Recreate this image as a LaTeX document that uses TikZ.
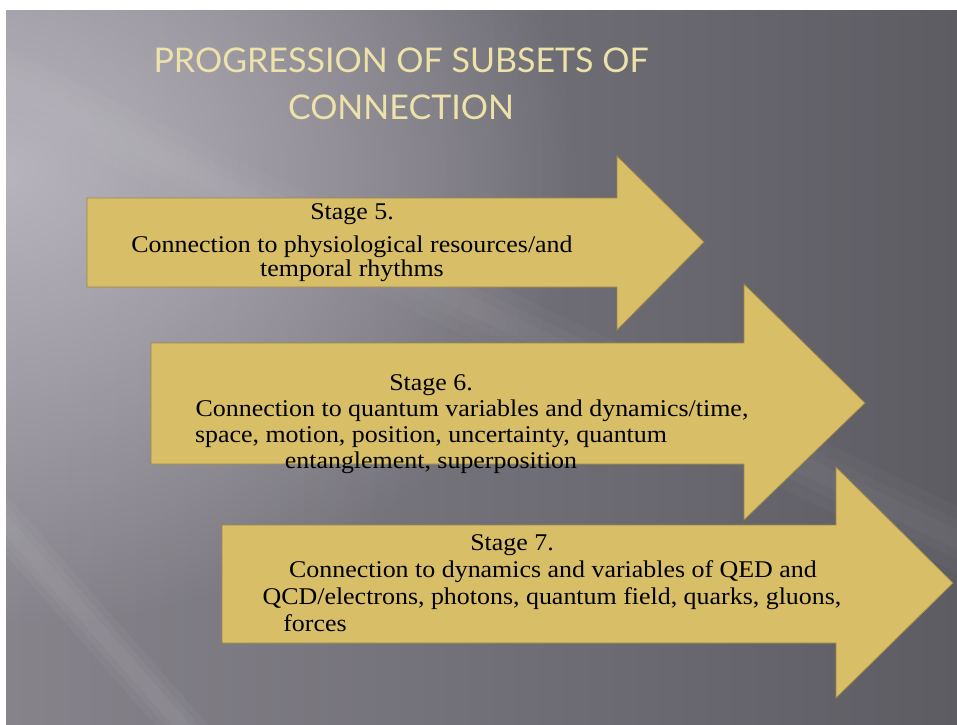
\documentclass[tikz,border=0pt]{standalone}
\usepackage{fontspec}
\setmainfont{Liberation Serif}[FakeStretch=1.08]
\newfontfamily\titlefont{Lato}
\usetikzlibrary{fadings}

\definecolor{slidelight}{RGB}{184,180,189}
\definecolor{slideleft}{RGB}{134,131,139}
\definecolor{slidedark}{RGB}{93,92,99}
\definecolor{arrowfill}{RGB}{215,190,103}
\definecolor{arrowline}{RGB}{158,136,72}
\definecolor{titlegold}{RGB}{236,226,170}

\tikzfading[name=glowfade, inner color=transparent!0, outer color=transparent!100]

\tikzset{
  stagearrow/.style={fill=arrowfill, draw=arrowline, line width=0.8pt, line join=miter},
  stagetext/.style={inner sep=0pt, align=center, text=black, font=\fontsize{24}{26}\selectfont},
  titletext/.style={inner sep=0pt, align=center, font=\titlefont\fontsize{34}{47}\selectfont}
}

\begin{document}
\begin{tikzpicture}[x=1pt, y=-1pt]
    % Slide background
    \useasboundingbox (0,0) rectangle (957,724);
    \fill[white] (0,0) rectangle (957,724);
    \begin{scope}
        \clip (6,10) rectangle (957,724);
        \shade[left color=slideleft, right color=slidedark] (6,10) rectangle (957,724);
        \fill[slidelight, path fading=glowfade] (0,170) ellipse (580 and 460);
        % light streaks
        \foreach \w in {40, 26, 14}
            \draw[white, opacity=0.035, line width=\w pt] (-60,450) -- (230,780);
        \foreach \w in {60, 36, 18}
            \draw[white, opacity=0.025, line width=\w pt] (-40,60) -- (1000,560);
    \end{scope}

    % Title
    \node[titletext, text=titlegold] (title) at (401,84) {PROGRESSION OF SUBSETS OF\\CONNECTION};

    % Stage arrows
    \draw[stagearrow] (87,198) -- (617,198) -- (617,156) -- (704,242) -- (617,330) -- (617,287) -- (87,287) -- cycle;
    \draw[stagearrow] (151,343) -- (744,343) -- (744,284) -- (865,403) -- (744,520) -- (744,464) -- (151,464) -- cycle;
    \draw[stagearrow] (222,525) -- (836,525) -- (836,467) -- (953,583) -- (836,698) -- (836,643) -- (222,643) -- cycle;

    % Stage texts
    \node[stagetext] (stage5) at (352,243) {Stage 5.\\[7pt]
        Connection to physiological resources/and\\[-2pt]
        temporal rhythms};
    \node[stagetext] (stage6) at (431,424) {Stage 6.\\
        \hspace*{82pt}Connection to quantum variables and dynamics/time,\\
        space, motion, position, uncertainty, quantum\\
        entanglement, superposition};
    \node[stagetext] (stage7) at (512,583) {Stage 7.\\[1pt]
        \hspace*{82pt}Connection to dynamics and variables of QED and\\[1pt]
        \hspace*{80pt}QCD/electrons, photons, quantum field, quarks, gluons,\\[1pt]
        \hspace*{-394pt}forces};
\end{tikzpicture}
\end{document}
